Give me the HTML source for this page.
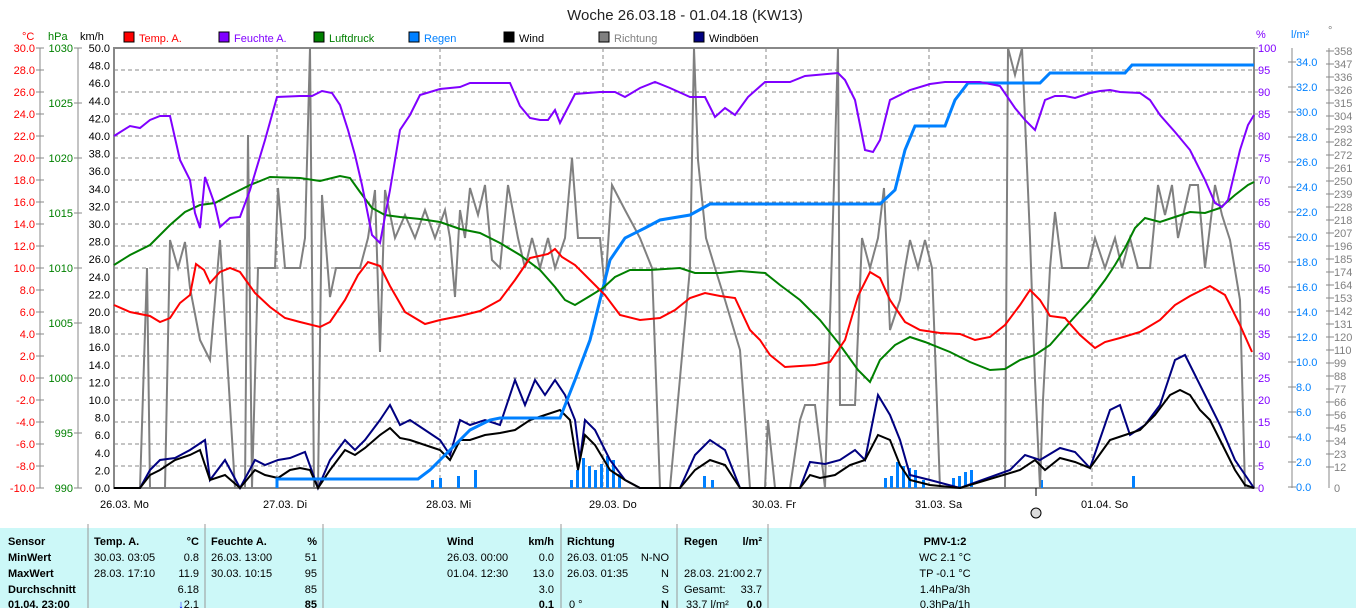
<!DOCTYPE html>
<html><head><meta charset="utf-8"><style>
body{margin:0;width:1356px;height:608px;overflow:hidden;background:#fff;font-family:"Liberation Sans",sans-serif}
svg text{font-family:"Liberation Sans",sans-serif}
</style></head><body>
<svg width="1356" height="608" viewBox="0 0 1356 608" xmlns="http://www.w3.org/2000/svg">
<text x="685" y="20" font-size="15" text-anchor="middle" fill="#222">Woche 26.03.18 - 01.04.18 (KW13)</text>
<g font-size="11">
<text x="22" y="40" fill="#f00">°C</text><text x="48" y="40" fill="green">hPa</text><text x="80" y="40" fill="#000">km/h</text>
<rect x="124" y="32" width="10" height="10" fill="red" stroke="#000"/><text x="139" y="42" fill="red">Temp. A.</text>
<rect x="219" y="32" width="10" height="10" fill="#8000ff" stroke="#000"/><text x="234" y="42" fill="#8000ff">Feuchte A.</text>
<rect x="314" y="32" width="10" height="10" fill="green" stroke="#000"/><text x="329" y="42" fill="green">Luftdruck</text>
<rect x="409" y="32" width="10" height="10" fill="#0080ff" stroke="#000"/><text x="424" y="42" fill="#0080ff">Regen</text>
<rect x="504" y="32" width="10" height="10" fill="#000" stroke="#000"/><text x="519" y="42" fill="#000">Wind</text>
<rect x="599" y="32" width="10" height="10" fill="gray" stroke="#000"/><text x="614" y="42" fill="gray">Richtung</text>
<rect x="694" y="32" width="10" height="10" fill="navy" stroke="#000"/><text x="709" y="42" fill="#000">Windböen</text>
<text x="1256" y="38" fill="#8000ff">%</text><text x="1291" y="38" fill="#0080ff">l/m²</text><text x="1328" y="34" fill="gray">°</text>
</g>
<g id="grid" stroke="#888" stroke-dasharray="4,3" stroke-width="1">
<line x1="114" x2="1254" y1="70" y2="70"/><line x1="114" x2="1254" y1="92" y2="92"/><line x1="114" x2="1254" y1="114" y2="114"/><line x1="114" x2="1254" y1="136" y2="136"/><line x1="114" x2="1254" y1="158" y2="158"/><line x1="114" x2="1254" y1="180" y2="180"/><line x1="114" x2="1254" y1="202" y2="202"/><line x1="114" x2="1254" y1="224" y2="224"/><line x1="114" x2="1254" y1="246" y2="246"/><line x1="114" x2="1254" y1="268" y2="268"/><line x1="114" x2="1254" y1="290" y2="290"/><line x1="114" x2="1254" y1="312" y2="312"/><line x1="114" x2="1254" y1="334" y2="334"/><line x1="114" x2="1254" y1="356" y2="356"/><line x1="114" x2="1254" y1="378" y2="378"/><line x1="114" x2="1254" y1="400" y2="400"/><line x1="114" x2="1254" y1="422" y2="422"/><line x1="114" x2="1254" y1="444" y2="444"/><line x1="114" x2="1254" y1="466" y2="466"/>
<line x1="277" x2="277" y1="48" y2="488"/><line x1="440" x2="440" y1="48" y2="488"/><line x1="603" x2="603" y1="48" y2="488"/><line x1="766" x2="766" y1="48" y2="488"/><line x1="929" x2="929" y1="48" y2="488"/><line x1="1092" x2="1092" y1="48" y2="488"/>
</g>
<rect x="114" y="48" width="1140" height="440" fill="none" stroke="#888" stroke-width="2"/>
<g stroke="#888"><line x1="40" y1="48" x2="40" y2="488"/><line x1="78" y1="48" x2="78" y2="488"/><line x1="1292" y1="48" x2="1292" y2="488"/><line x1="1329" y1="48" x2="1329" y2="488"/></g>
<g font-size="11" text-anchor="end" id="labels"></g>
<g fill="#0080ff">
<rect x="431" y="480" width="3" height="8"/><rect x="439" y="478" width="3" height="10"/><rect x="457" y="476" width="3" height="12"/><rect x="474" y="470" width="3" height="18"/>
<rect x="570" y="480" width="3" height="8"/><rect x="576" y="470" width="3" height="18"/><rect x="582" y="458" width="3" height="30"/><rect x="588" y="466" width="3" height="22"/><rect x="594" y="470" width="3" height="18"/><rect x="600" y="464" width="3" height="24"/><rect x="606" y="456" width="3" height="32"/><rect x="612" y="460" width="3" height="28"/><rect x="618" y="474" width="3" height="14"/>
<rect x="703" y="476" width="3" height="12"/><rect x="711" y="480" width="3" height="8"/>
<rect x="884" y="478" width="3" height="10"/><rect x="890" y="476" width="3" height="12"/><rect x="896" y="462" width="3" height="26"/><rect x="902" y="466" width="3" height="22"/><rect x="908" y="468" width="3" height="20"/><rect x="914" y="470" width="3" height="18"/><rect x="922" y="480" width="3" height="8"/>
<rect x="952" y="478" width="3" height="10"/><rect x="958" y="476" width="3" height="12"/><rect x="964" y="472" width="3" height="16"/><rect x="970" y="470" width="3" height="18"/><rect x="1040" y="480" width="3" height="8"/><rect x="1132" y="476" width="3" height="12"/>
</g>
<polyline fill="none" stroke="gray" stroke-width="2" points="114,488 140,488 147,268 150,488 165,488 170,240 178,268 185,242 190,288 200,340 210,360 220,240 235,488 245,488 248,135 252,488 258,268 275,268 278,188 285,268 300,268 305,238 310,48 314,488 318,488 322,195 330,297 336,268 360,268 368,238 375,190 380,352 385,190 395,238 405,215 415,238 425,210 435,238 445,210 450,238 455,297 460,210 465,238 470,188 478,215 485,185 492,260 500,268 508,185 518,238 525,268 532,238 540,268 548,238 555,268 565,238 572,158 578,238 600,238 605,290 612,185 625,210 640,238 652,268 660,488 670,488 690,268 694,48 698,160 706,238 715,268 725,300 740,350 750,488 765,488 768,420 775,488 790,488 800,420 805,405 815,405 825,488 838,48 840,405 855,405 862,238 870,268 878,238 884,188 890,330 900,300 905,268 910,240 918,268 925,240 932,268 940,488 1005,488 1008,48 1015,75 1022,48 1030,238 1035,380 1040,488 1043,400 1050,268 1055,212 1062,268 1088,268 1095,238 1105,268 1115,238 1122,268 1130,238 1138,268 1150,268 1158,185 1165,215 1172,185 1178,238 1190,185 1198,185 1205,268 1215,185 1222,215 1230,240 1240,300 1245,488 1254,488"/>
<polyline fill="none" stroke="navy" stroke-width="2" points="114,488 140,488 150,470 160,460 175,458 190,450 205,440 210,480 225,460 240,488 255,460 265,465 278,460 290,458 305,452 318,488 330,460 345,440 355,450 365,440 380,420 390,405 400,425 410,420 425,430 440,440 450,455 460,420 470,425 485,420 500,425 515,380 525,405 535,380 545,395 555,380 565,395 575,420 580,460 585,420 595,430 610,460 625,480 640,488 680,488 695,455 710,440 725,450 740,488 800,488 810,462 825,464 840,460 855,450 865,460 878,395 890,415 900,440 910,475 930,480 960,488 1010,470 1025,455 1040,460 1060,448 1075,452 1090,468 1110,410 1120,405 1130,435 1145,425 1160,405 1175,360 1185,355 1195,375 1205,395 1220,425 1235,460 1254,488"/>
<polyline fill="none" stroke="#000" stroke-width="2" points="114,488 140,488 150,475 160,470 175,460 190,455 200,450 210,480 225,475 240,488 255,470 265,475 278,478 290,470 300,468 310,470 318,488 330,470 345,450 355,455 365,448 380,435 390,428 400,438 410,440 425,445 440,450 450,460 460,440 470,440 485,435 500,433 515,430 530,420 545,415 560,410 570,420 578,470 585,435 595,445 610,470 625,480 640,488 680,488 695,470 710,460 725,465 740,488 800,488 810,475 820,478 835,475 850,465 865,460 878,435 890,440 900,465 910,480 930,485 960,488 1020,470 1035,460 1045,470 1060,458 1075,462 1090,468 1110,440 1125,435 1140,430 1155,415 1170,395 1180,390 1190,395 1200,410 1210,420 1220,440 1235,470 1245,485 1254,488"/>
<polyline fill="none" stroke="#0080ff" stroke-width="3" points="277,488 277,479 418,479 430,470 450,450 470,430 490,420 500,418 560,418 575,380 590,340 600,300 610,260 625,238 645,228 660,220 690,215 710,204 880,204 895,190 905,150 915,126 945,126 955,100 968,83 1040,83 1050,73 1125,73 1132,65 1254,65"/>
<polyline fill="none" stroke="green" stroke-width="2" points="114,265 130,255 150,245 170,225 185,212 200,205 215,203 230,195 250,185 270,177 300,178 320,181 340,176 350,178 360,192 372,208 385,215 400,217 420,219 440,222 460,229 480,233 500,243 520,255 540,270 555,287 565,300 575,305 590,296 603,288 615,277 630,270 650,270 680,268 695,273 720,273 740,271 765,273 780,285 800,300 820,320 840,345 858,370 870,382 880,360 895,345 910,337 925,342 950,352 970,362 990,370 1005,369 1020,360 1035,355 1050,345 1070,322 1090,300 1105,280 1115,265 1125,248 1135,228 1145,218 1160,222 1175,217 1190,212 1205,213 1220,208 1235,195 1248,185 1254,182"/>
<polyline fill="none" stroke="#8000ff" stroke-width="2" points="114,136 130,126 140,128 150,120 160,116 170,116 180,160 190,180 195,213 200,228 205,177 215,205 220,227 230,218 240,217 250,190 265,140 277,97 300,96 312,96 322,91 332,93 340,105 348,130 355,155 362,185 372,235 380,243 390,190 400,130 410,115 420,95 440,89 460,87 470,83 510,83 520,106 530,118 540,120 548,120 555,110 560,123 575,94 600,92 615,92 625,97 640,88 655,82 670,88 690,97 705,97 715,117 725,108 735,115 748,97 765,82 790,82 805,76 838,73 845,80 855,100 865,150 873,152 880,140 890,100 910,90 930,84 945,82 980,82 1000,86 1015,108 1025,120 1035,130 1045,100 1055,96 1065,96 1075,98 1090,93 1100,91 1110,90 1120,92 1140,93 1150,100 1160,115 1175,132 1190,150 1205,180 1215,203 1222,207 1228,200 1240,150 1248,125 1254,115"/>
<polyline fill="none" stroke="red" stroke-width="2" points="114,305 130,312 150,316 160,322 170,318 180,303 190,295 196,264 204,270 210,283 220,272 230,268 240,272 255,293 270,307 285,318 300,322 320,327 330,322 345,300 358,275 368,262 380,266 390,286 405,312 425,324 440,320 460,316 480,311 500,300 515,280 530,258 548,254 555,249 562,257 575,265 590,280 605,295 620,315 640,320 660,318 675,310 690,298 705,293 720,296 735,298 750,330 760,340 770,355 785,367 800,366 815,365 830,362 845,340 858,296 870,272 880,278 890,300 905,322 920,330 940,333 960,334 975,340 990,337 1005,325 1020,305 1030,290 1040,300 1050,316 1065,318 1080,335 1095,348 1105,342 1120,338 1140,332 1160,320 1175,305 1190,296 1210,286 1225,295 1240,325 1252,352"/>
<g font-size="11" fill="#000">
<text x="100" y="508">26.03. Mo</text><text x="263" y="508">27.03. Di</text><text x="426" y="508">28.03. Mi</text><text x="589" y="508">29.03. Do</text><text x="752" y="508">30.03. Fr</text><text x="915" y="508">31.03. Sa</text><text x="1081" y="508">01.04. So</text>
</g>
<line x1="1036" y1="488" x2="1036" y2="496" stroke="#000"/><circle cx="1036" cy="513" r="5" fill="#ddd" stroke="#000"/>
<rect x="0" y="528" width="1356" height="80" fill="#ccf8f8"/>
<g stroke="#999"><line x1="88" y1="524" x2="88" y2="608"/><line x1="205" y1="524" x2="205" y2="608"/><line x1="323" y1="524" x2="323" y2="608"/><line x1="561" y1="524" x2="561" y2="608"/><line x1="677" y1="524" x2="677" y2="608"/><line x1="768" y1="524" x2="768" y2="608"/></g>
<g font-size="11" fill="#000">
<g font-weight="bold"><text x="8" y="545">Sensor</text><text x="8" y="561">MinWert</text><text x="8" y="577">MaxWert</text><text x="8" y="593">Durchschnitt</text><text x="8" y="608">01.04. 23:00</text>
<text x="94" y="545">Temp. A.</text><text x="199" y="545" text-anchor="end">°C</text><text x="211" y="545">Feuchte A.</text><text x="317" y="545" text-anchor="end">%</text>
<text x="447" y="545">Wind</text><text x="554" y="545" text-anchor="end">km/h</text><text x="567" y="545">Richtung</text><text x="684" y="545">Regen</text><text x="762" y="545" text-anchor="end">l/m²</text><text x="945" y="545" text-anchor="middle">PMV-1:2</text>
<text x="317" y="608" text-anchor="end">85</text><text x="554" y="608" text-anchor="end">0.1</text><text x="669" y="608" text-anchor="end">N</text><text x="762" y="608" text-anchor="end">0.0</text></g>
<text x="94" y="561">30.03.  03:05</text><text x="199" y="561" text-anchor="end">0.8</text><text x="211" y="561">26.03.  13:00</text><text x="317" y="561" text-anchor="end">51</text>
<text x="94" y="577">28.03.  17:10</text><text x="199" y="577" text-anchor="end">11.9</text><text x="211" y="577">30.03.  10:15</text><text x="317" y="577" text-anchor="end">95</text>
<text x="199" y="593" text-anchor="end">6.18</text><text x="317" y="593" text-anchor="end">85</text><text x="199" y="608" text-anchor="end"><tspan fill="#00f">↓</tspan>2.1</text>
<text x="447" y="561">26.03.  00:00</text><text x="554" y="561" text-anchor="end">0.0</text><text x="447" y="577">01.04.  12:30</text><text x="554" y="577" text-anchor="end">13.0</text><text x="554" y="593" text-anchor="end">3.0</text>
<text x="567" y="561">26.03.  01:05</text><text x="669" y="561" text-anchor="end">N-NO</text><text x="567" y="577">26.03.  01:35</text><text x="669" y="577" text-anchor="end">N</text><text x="669" y="593" text-anchor="end">S</text><text x="569" y="608">0 °</text>
<text x="684" y="577">28.03.  21:00</text><text x="762" y="577" text-anchor="end">2.7</text><text x="684" y="593">Gesamt:</text><text x="762" y="593" text-anchor="end">33.7</text><text x="686" y="608">33.7 l/m²</text>
<text x="945" y="561" text-anchor="middle">WC 2.1 °C</text><text x="945" y="577" text-anchor="middle">TP -0.1 °C</text><text x="945" y="593" text-anchor="middle">1.4hPa/3h</text><text x="945" y="608" text-anchor="middle">0.3hPa/1h</text>
</g>
</svg>
<script>
var g=document.getElementById('labels'),ns='http://www.w3.org/2000/svg';
function t(x,y,s,c,a){var e=document.createElementNS(ns,'text');e.setAttribute('x',x);e.setAttribute('y',y+4);e.setAttribute('fill',c);if(a)e.setAttribute('text-anchor',a);e.textContent=s;g.appendChild(e);}
function tk(x1,x2,y,c){var l=document.createElementNS(ns,'line');l.setAttribute('x1',x1);l.setAttribute('x2',x2);l.setAttribute('y1',y);l.setAttribute('y2',y);l.setAttribute('stroke',c||'#888');g.appendChild(l);}
for(var i=0;i<=20;i++){var y=48+i*22;t(35,y,(30-2*i).toFixed(1),'red');tk(36,44,y);t(1258,y,100-5*i,'#8000ff','start');tk(1254,1258,y);}
for(var i=0;i<=8;i++){var y=48+i*55;t(73,y,1030-5*i,'green');tk(74,82,y);}
for(var i=0;i<=25;i++){var y=48+i*17.6;t(110,y,(50-2*i).toFixed(1),'#000');}
for(var v=0;v<=34;v+=2){var y=487-v*12.5;t(1296,y,v.toFixed(1),'#0080ff','start');tk(1288,1296,y);}
var d=[358,347,336,326,315,304,293,282,272,261,250,239,228,218,207,196,185,174,164,153,142,131,120,110,99,88,77,66,56,45,34,23,12];
for(var i=0;i<d.length;i++){var y=51+i*13;t(1334,y,d[i],'gray','start');tk(1326,1334,y);}
t(1334,488,'0','gray','start');
</script>
</body></html>
